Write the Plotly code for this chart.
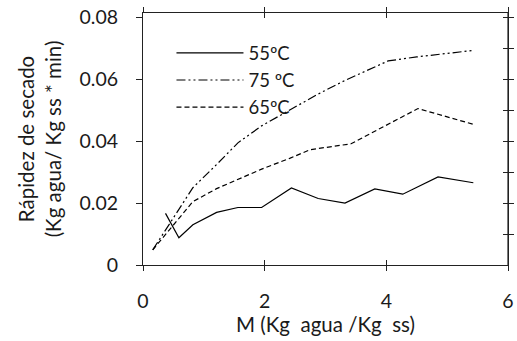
import plotly.graph_objects as go

# Data
x55 = [0.37, 0.59, 0.82, 1.21, 1.56, 1.95, 2.44, 2.88, 3.32, 3.81, 4.27, 4.85, 5.43]
y55 = [0.0167, 0.0088, 0.0130, 0.0170, 0.0186, 0.0186, 0.0249, 0.0215, 0.0200, 0.0246, 0.0229, 0.0285, 0.0266]

x75 = [0.16, 0.59, 0.82, 1.21, 1.56, 1.95, 2.44, 2.88, 3.32, 4.03, 4.50, 5.43]
y75 = [0.0049, 0.0180, 0.0250, 0.0325, 0.0395, 0.0450, 0.0505, 0.0553, 0.0597, 0.0660, 0.0673, 0.0694]

x65 = [0.16, 0.82, 1.21, 1.59, 1.95, 2.41, 2.75, 3.42, 3.95, 4.52, 5.43]
y65 = [0.0049, 0.0205, 0.0247, 0.0280, 0.0310, 0.0345, 0.0373, 0.0392, 0.0446, 0.0506, 0.0455]

names = ["55ºC", "75 ºC", "65ºC"]
x_ticks = [0, 2, 4, 6]
y_ticks = [0, 0.02, 0.04, 0.06, 0.08]
y_ticks_right = [0.01, 0.02, 0.03, 0.04, 0.05, 0.06, 0.07, 0.08]

FONT = "Lato"
TXT = "#1a1a1a"
FS = 19.5
FT = 20.5

fig = go.Figure()
fig.add_trace(go.Scatter(x=x55, y=y55, name=names[0], mode="lines",
                         line=dict(color="black", width=1.2, dash="solid")))
fig.add_trace(go.Scatter(x=x75, y=y75, name=names[1], mode="lines",
                         line=dict(color="black", width=1.2, dash="9px,3px,2px,3px,2px,3px")))
fig.add_trace(go.Scatter(x=x65, y=y65, name=names[2], mode="lines",
                         line=dict(color="black", width=1.2, dash="5px,3px")))

# invisible helper traces so the extra frame axes (crossing ticks) are drawn
for xa, ya in [("x2", "y"), ("x", "y2"), ("x", "y3")]:
    fig.add_trace(go.Scatter(x=x55, y=y55, xaxis=xa, yaxis=ya, mode="lines",
                             line=dict(width=0, color="rgba(0,0,0,0)"),
                             showlegend=False, hoverinfo="skip"))

XR = [0, 6]
YR = [0, 0.0815]
LC = "#222"
base = dict(showgrid=False, zeroline=False, automargin=False)

fig.update_layout(
    width=517, height=341,
    margin=dict(l=143, r=9, t=13, b=76),
    paper_bgcolor="white", plot_bgcolor="white",
    font=dict(family=FONT, size=FS, color=TXT),
    showlegend=True,
    legend=dict(x=0.078, y=0.915, xanchor="left", yanchor="top",
                bgcolor="rgba(0,0,0,0)", font=dict(size=18.5, family=FONT, color=TXT),
                itemwidth=67, tracegroupgap=0),
    xaxis=dict(range=XR, tickvals=x_ticks, ticks="outside", ticklen=5, tickcolor=LC,
               showline=True, linecolor=LC, linewidth=1, mirror="ticks",
               title=dict(text="M (Kg\u00a0\u00a0agua /Kg\u00a0\u00a0ss)", standoff=4,
                          font=dict(size=FT, family=FONT, color=TXT)),
               ticklabelstandoff=14, **base),
    xaxis2=dict(range=XR, tickvals=x_ticks, ticks="inside", ticklen=5, tickcolor=LC,
                showline=False, mirror="ticks", overlaying="x", side="bottom", anchor="y",
                showticklabels=False, **base),
    yaxis=dict(range=YR, tickvals=y_ticks, ticktext=["0", "0.02", "0.04", "0.06", "0.08"],
               ticks="outside", ticklen=6, tickcolor=LC,
               showline=True, linecolor=LC, linewidth=1, mirror=True,
               title=dict(text="Rápidez de secado<br>(Kg agua/ Kg ss * min)", standoff=12,
                          font=dict(size=FT, family=FONT, color=TXT)),
               ticklabelstandoff=14, **base),
    yaxis2=dict(range=YR, tickvals=y_ticks_right, ticks="outside", ticklen=5, tickcolor=LC,
                tickwidth=1.2, showline=True, linecolor=LC, linewidth=1.2, overlaying="y",
                side="right", anchor="x", showticklabels=False, **base),
    yaxis3=dict(range=YR, tickvals=y_ticks_right, ticks="inside", ticklen=5, tickcolor=LC,
                tickwidth=1.2, showline=False, overlaying="y", side="right", anchor="x",
                showticklabels=False, **base),
)
# right frame border (decoration, paper coordinates)
fig.add_shape(type="line", xref="paper", yref="paper", x0=1, x1=1, y0=0, y1=1,
              line=dict(color=LC, width=1.2), layer="above")

fig.write_html("out.html")
